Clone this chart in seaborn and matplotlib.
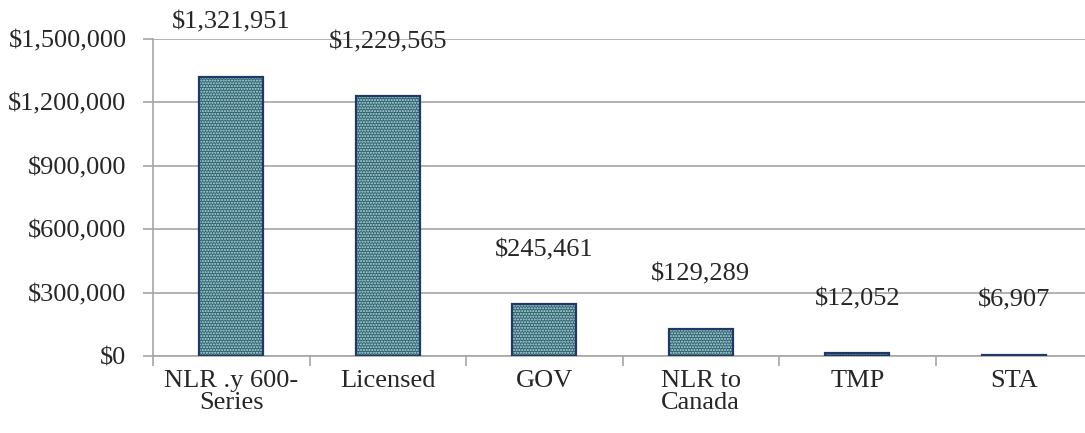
import matplotlib
matplotlib.use("Agg")
import matplotlib.pyplot as plt
from matplotlib.ticker import FuncFormatter, FixedLocator
import seaborn as sns
import pandas as pd

categories = ["NLR .y 600-\nSeries", "Licensed", "GOV", "NLR to\nCanada", "TMP", "STA"]
amounts = [1321951, 1229565, 245461, 129289, 12052, 6907]
y_ticks = [0, 300000, 600000, 900000, 1200000, 1500000]

df = pd.DataFrame({"category": categories, "amount": amounts})

sns.set_style("white")
plt.rcParams["font.family"] = ["Liberation Serif", "DejaVu Serif"]
plt.rcParams["hatch.linewidth"] = 1.0

fig = plt.figure(figsize=(10.85, 4.33), dpi=100)
ax = fig.add_axes([153 / 1085, 77 / 433, 939 / 1085, 317 / 433])

# textured fill
sns.barplot(data=df, x="category", y="amount", color="#2c6573", width=0.41,
            saturation=1, ax=ax, zorder=2)
for p in ax.patches:
    p.set_hatch("......")
    p.set_edgecolor("#c2dadb")
    p.set_linewidth(0)

# outline
sns.barplot(data=df, x="category", y="amount", fill=False, width=0.41,
            edgecolor="#1f3864", linewidth=1.6, ax=ax, zorder=3)

ax.set_xlim(-0.5, len(categories) - 0.5)
ax.set_ylim(0, 1500000)
ax.set_yticks(y_ticks)
ax.yaxis.set_major_formatter(FuncFormatter(lambda v, _: f"${v:,.0f}"))
ax.grid(axis="y", color="#a6a6a6", linewidth=1.2, zorder=0)
ax.set_axisbelow(True)

for s in ["top", "right"]:
    ax.spines[s].set_visible(False)
for s in ["left", "bottom"]:
    ax.spines[s].set_color("#a6a6a6")
    ax.spines[s].set_linewidth(1.2)

ax.xaxis.set_minor_locator(FixedLocator([i - 0.5 for i in range(len(categories) + 1)]))
ax.tick_params(axis="x", which="major", length=0, pad=10, labelsize=19)
ax.tick_params(axis="x", which="minor", length=7, width=1.2, color="#a6a6a6", bottom=True)
ax.tick_params(axis="y", length=7, width=1.2, color="#a6a6a6", left=True, pad=12, labelsize=19)
for lbl in ax.get_xticklabels():
    lbl.set_linespacing(1.0)
ax.set_xlabel("")
ax.set_ylabel("")

for i, v in enumerate(amounts):
    ax.annotate(f"${v:,}", (i, v), xytext=(0, 31), textcoords="offset points",
                ha="center", va="bottom", fontsize=19, annotation_clip=False)

fig.savefig("out.png", dpi=100)
